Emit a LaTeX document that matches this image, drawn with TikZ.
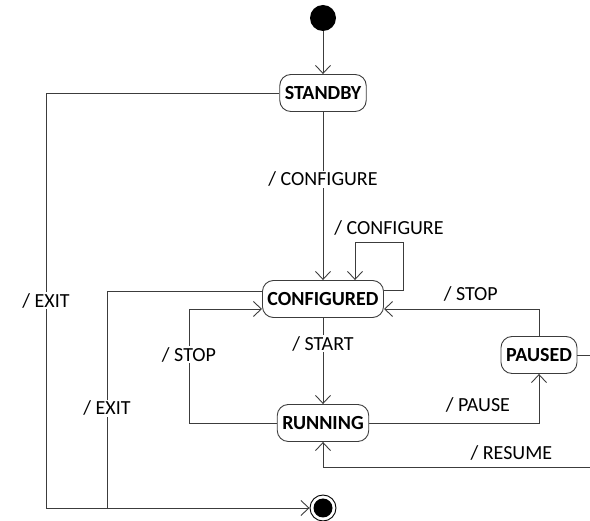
\documentclass[tikz,border=0pt]{standalone}
\usepackage{fontspec}
\setmainfont{Carlito}
\usepackage{tikz}
\usetikzlibrary{arrows.meta, positioning}
\definecolor{wire}{RGB}{60,60,60}

\begin{document}
\begin{tikzpicture}[x=1pt, y=-1pt, every node/.style={font=\fontsize{20}{23}\selectfont},
  state/.style={draw=wire, rounded corners=11pt, line width=0.9pt, minimum height=37pt, inner xsep=5pt, font=\fontsize{20}{23}\selectfont\bfseries},
  tr/.style={draw=wire, line width=0.9pt, -{Straight Barb[length=8pt, width=15pt]}},
  wire/.style={draw=wire, line width=0.9pt},
  lblw/.style={fill=white, inner sep=1pt}]
  \useasboundingbox (0,0) rectangle (590,521);
  \clip (0,0) rectangle (590,521);

  \node[circle, fill=black, minimum size=26pt, inner sep=0pt] (init) at (323,18) {};
  \node[state] (standby) at (323,93) {STANDBY};
  \node[state] (configured) at (323,299) {CONFIGURED};
  \node[state] (running) at (323,423) {RUNNING};
  \node[state] (paused) at (539,355) {PAUSED};
  \node[circle, draw=black, line width=0.9pt, minimum size=26pt, inner sep=0pt,
    path picture={\fill (path picture bounding box.center) circle (9.5pt);}] (final) at (323,508) {};

  \coordinate (exitL) at (46,508);
  \coordinate (exitM) at (107,508);
  \coordinate (loopR) at (403,242);
  \coordinate (stopL) at (189,423);
  \coordinate (resR) at (600,467);

  \draw[tr] (init) -- (standby);
  \draw[tr] (standby) -- node[lblw, pos=0.4]{/ CONFIGURE} (configured);
  \draw[tr] ([yshift=9pt]configured.east) -| (loopR) -| node[pos=0.25, above=3pt, xshift=10pt]{/ CONFIGURE} ([xshift=32pt]configured.north);
  \draw[tr] (configured) -- node[lblw, pos=0.3]{/ START} (running);
  \draw[tr] (running.west) -- (stopL) |- node[lblw, pos=0.3]{/ STOP} ([yshift=-10pt]configured.west);
  \draw[tr] (running.east) -| node[pos=0.32, above=7pt]{/ PAUSE} (paused.south);
  \draw[tr] (paused.north) |- node[pos=0.72, above=4pt]{/ STOP} ([yshift=-10pt]configured.east);
  \draw[tr] (paused.east) -| (resR) -| node[pos=0.16, above=3pt]{/ RESUME} (running.south);
  \draw[tr] (standby.west) -| (exitL) -- (final.west);
  \path (standby.west) -| node[lblw, pos=0.75]{/ EXIT} (exitL);
  \draw[wire] ([yshift=8pt]configured.west) -| node[lblw, pos=0.77]{/ EXIT} (exitM);
\end{tikzpicture}
\end{document}
